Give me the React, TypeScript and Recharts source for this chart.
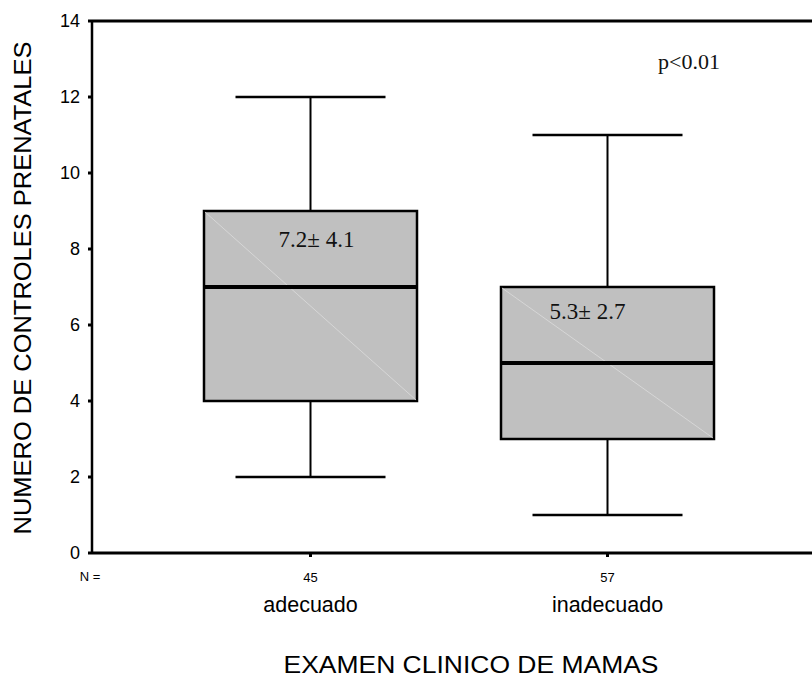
import React from "react";
import { ComposedChart, Bar, XAxis, YAxis, ReferenceLine } from "recharts";

const categories = ["adecuado", "inadecuado"];
const counts = [45, 57];
const mins = [2, 1];
const q1s = [4, 3];
const medians = [7, 5];
const q3s = [9, 7];
const maxs = [12, 11];
const meanLabels = ["7.2\u00b1 4.1", "5.3\u00b1 2.7"];
const yTicks = [0, 2, 4, 6, 8, 10, 12, 14];

const data = categories.map((name, i) => ({
  name,
  n: counts[i],
  min: mins[i],
  q1: q1s[i],
  median: medians[i],
  q3: q3s[i],
  max: maxs[i],
  label: meanLabels[i],
}));

const SANS = "'Liberation Sans', Arial, sans-serif";
const SERIF = "'Liberation Serif', 'Times New Roman', serif";

// small nudges for the mean ± sd text inside each box
const labelDx = [6, -20];
const labelDy = [28, 24];

function BoxShape(props: any) {
  const { x, y, width, height, payload, index } = props;
  const range = payload.max - payload.min;
  const k = range ? height / range : 0;
  const py = (v: number) => y + (payload.max - v) * k;
  const cx = x + width / 2;
  const capHalf = 75;
  const yMax = py(payload.max);
  const yMin = py(payload.min);
  const yQ3 = py(payload.q3);
  const yQ1 = py(payload.q1);
  const yMed = py(payload.median);
  return (
    <g>
      <line x1={cx} x2={cx} y1={yMax} y2={yQ3} stroke="#000" strokeWidth={2} />
      <line x1={cx} x2={cx} y1={yQ1} y2={yMin} stroke="#000" strokeWidth={2} />
      <line x1={cx - capHalf} x2={cx + capHalf} y1={yMax} y2={yMax} stroke="#000" strokeWidth={2.5} />
      <line x1={cx - capHalf} x2={cx + capHalf} y1={yMin} y2={yMin} stroke="#000" strokeWidth={2.5} />
      <rect x={x} y={yQ3} width={width} height={yQ1 - yQ3} fill="#c0c0c0" stroke="#000" strokeWidth={2.5} />
      <line x1={x + 1} y1={yQ3 + 1} x2={x + width - 1} y2={yQ1 - 1} stroke="#dcdcdc" strokeWidth={0.8} />
      <line x1={x} x2={x + width} y1={yMed} y2={yMed} stroke="#000" strokeWidth={4} />
      <text
        x={cx + labelDx[index]}
        y={yQ3 + labelDy[index]}
        textAnchor="middle"
        dominantBaseline="central"
        fontFamily={SERIF}
        fontSize={23}
        fill="#111"
      >
        {payload.label}
      </text>
    </g>
  );
}

function CategoryTick(props: any) {
  const { x, y, payload, index } = props;
  return (
    <g>
      <text x={x} y={y + 23} textAnchor="middle" fontFamily={SANS} fontSize={13} fill="#000">
        {counts[index]}
      </text>
      <text x={x} y={y + 53} textAnchor="middle" fontFamily={SANS} fontSize={21.5} fill="#000">
        {payload.value}
      </text>
    </g>
  );
}

export default function App() {
  return (
    <div style={{ position: "absolute", left: 0, top: 0, width: 812, height: 679, background: "#fff" }}>
      <ComposedChart
        width={812}
        height={679}
        data={data}
        margin={{ top: 21, right: 0, bottom: 0, left: 0 }}
      >
        <XAxis
          dataKey="name"
          type="category"
          height={126}
          padding={{ left: 70, right: 56 }}
          axisLine={{ stroke: "#000", strokeWidth: 3 }}
          tickLine={{ stroke: "#000", strokeWidth: 3 }}
          tickSize={4}
          tick={<CategoryTick />}
          interval={0}
        />
        <YAxis
          type="number"
          domain={[0, 14]}
          ticks={yTicks}
          width={92}
          interval={0}
          axisLine={{ stroke: "#000", strokeWidth: 2.5 }}
          tickLine={{ stroke: "#000", strokeWidth: 3 }}
          tickSize={4}
          tickMargin={8}
          tick={{ fill: "#000", fontFamily: SANS, fontSize: 18 }}
        />
        <ReferenceLine y={14} stroke="#000" strokeWidth={3} ifOverflow="extendDomain" />
        <Bar
          dataKey={(d: any) => [d.min, d.max]}
          barSize={213}
          shape={<BoxShape />}
          isAnimationActive={false}
        />
        <text x={689} y={61} textAnchor="middle" dominantBaseline="central" fontFamily={SERIF} fontSize={22} fill="#111">
          p&lt;0.01
        </text>
        <text x={90} y={576} textAnchor="middle" dominantBaseline="central" fontFamily={SANS} fontSize={13} fill="#000">
          N =
        </text>
        <text
          x={22}
          y={288}
          transform="rotate(-90 22 288)"
          textAnchor="middle"
          dominantBaseline="central"
          fontFamily={SANS}
          fontSize={24}
          textLength={493}
          lengthAdjust="spacingAndGlyphs"
          fill="#000"
        >
          NUMERO DE CONTROLES PRENATALES
        </text>
        <text
          x={471}
          y={665}
          textAnchor="middle"
          dominantBaseline="central"
          fontFamily={SANS}
          fontSize={23}
          textLength={375}
          lengthAdjust="spacingAndGlyphs"
          fill="#000"
        >
          EXAMEN CLINICO DE MAMAS
        </text>
      </ComposedChart>
    </div>
  );
}
